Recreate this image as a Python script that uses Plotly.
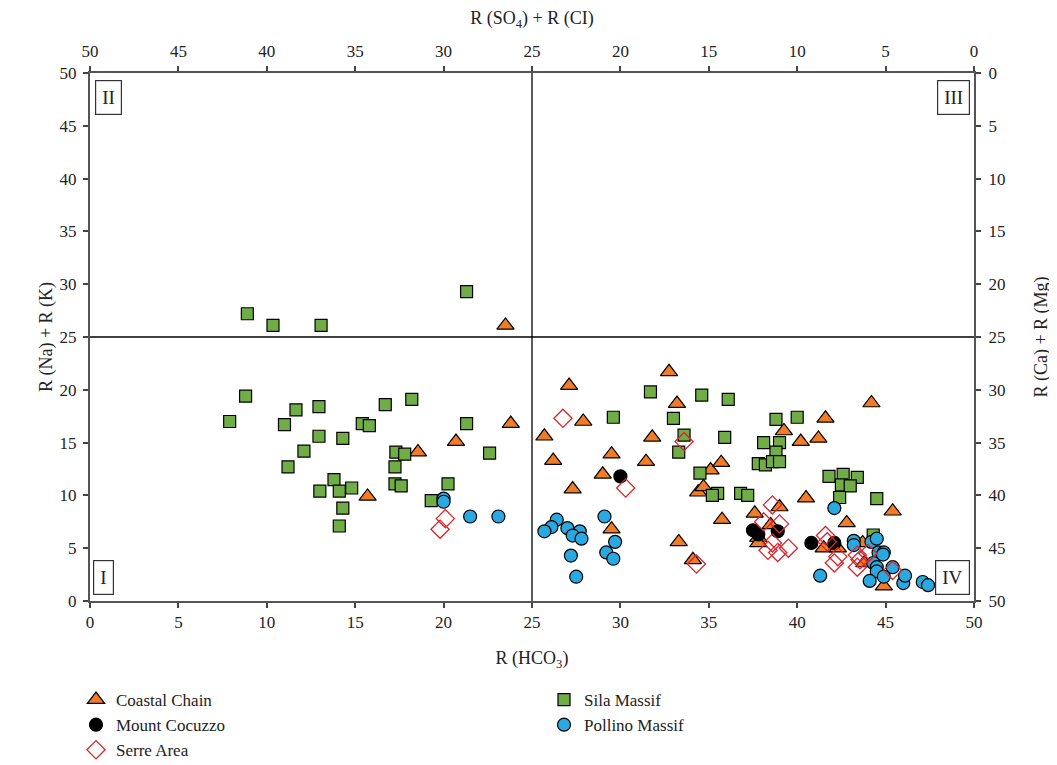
import plotly.graph_objects as go

# ---- data ----
coastal_x = [23.5, 23.8, 20.7, 18.55, 15.7, 32.75, 27.1, 33.2, 27.9, 25.7, 31.8, 26.2, 29.5, 31.45, 29.0, 27.3,
             35.1, 35.7, 34.4, 34.7, 35.75, 29.5, 33.3, 34.1, 44.2, 41.6, 39.25, 40.2, 41.2, 40.5, 45.4, 39.0,
             37.6, 42.8, 38.5, 37.8, 37.8, 41.5, 42.3, 43.7, 43.8, 44.9]
coastal_y = [26.1, 16.8, 15.1, 14.1, 9.9, 21.7, 20.4, 18.7, 17.0, 15.6, 15.5, 13.3, 13.9, 13.2, 12.0, 10.6,
             12.4, 13.1, 10.3, 10.8, 7.7, 6.8, 5.6, 3.9, 18.75, 17.3, 16.1, 15.1, 15.4, 9.75, 8.5, 8.9,
             8.3, 7.4, 7.2, 6.0, 5.5, 5.0, 5.0, 5.5, 3.6, 1.4]

cocuzzo_x = [30.0, 37.5, 37.8, 38.9, 40.8, 42.1]
cocuzzo_y = [11.8, 6.7, 6.3, 6.6, 5.5, 5.5]

serre_x = [26.75, 30.3, 33.6, 34.3, 20.1, 19.8, 38.6, 38.1, 39.0, 38.6, 38.35, 38.9, 39.5, 41.6, 41.7,
           42.1, 42.3, 43.4, 43.55, 43.4, 45.4, 44.0]
serre_y = [17.3, 10.7, 15.1, 3.5, 7.8, 6.8, 9.1, 7.5, 7.3, 5.5, 4.8, 4.6, 5.0, 6.2, 5.6,
           3.6, 4.2, 4.35, 3.9, 3.2, 2.9, 4.5]

sila_x = [8.9, 10.35, 13.07, 21.3, 8.8, 7.9, 11.65, 12.95, 11.0, 12.95, 14.3, 12.1, 11.2, 16.7, 15.4, 15.8,
          17.3, 17.8, 17.25, 17.25, 17.6, 13.8, 13.0, 14.1, 14.8, 14.3, 14.1, 18.2, 21.3, 22.6, 20.25, 19.3,
          31.7, 34.6, 36.1, 29.6, 33.0, 33.6, 35.9, 33.3, 34.5, 38.8, 40.0, 38.1, 39.0, 38.8, 37.8, 38.2,
          38.6, 39.0, 41.8, 42.6, 43.4, 42.5, 43.0, 42.4, 44.5, 35.5, 35.2, 36.8, 37.2, 44.3]
sila_y = [27.2, 26.1, 26.1, 29.3, 19.4, 17.0, 18.1, 18.4, 16.7, 15.6, 15.4, 14.2, 12.7, 18.6, 16.8, 16.6,
          14.1, 13.9, 12.7, 11.1, 10.9, 11.5, 10.4, 10.4, 10.7, 8.8, 7.1, 19.1, 16.8, 14.0, 11.1, 9.5,
          19.8, 19.5, 19.1, 17.4, 17.3, 15.7, 15.5, 14.1, 12.1, 17.2, 17.4, 15.0, 15.0, 14.1, 13.0, 12.9,
          13.2, 13.2, 11.8, 12.0, 11.7, 11.0, 10.9, 9.8, 9.7, 10.2, 10.0, 10.2, 10.0, 6.25]

pollino_x = [20.0, 20.0, 21.5, 23.1, 26.4, 26.1, 25.7, 27.0, 27.7, 27.3, 27.8, 29.1, 29.7, 29.2, 29.6, 27.2,
             27.5, 42.1, 41.3, 43.2, 43.2, 44.2, 44.5, 44.6, 44.9, 44.85, 44.3, 44.5, 44.5, 45.4, 44.1,
             44.9, 46.0, 46.1, 47.1, 47.4]
pollino_y = [9.7, 9.4, 8.0, 8.0, 7.7, 7.0, 6.6, 6.9, 6.6, 6.2, 5.9, 8.0, 5.6, 4.6, 4.0, 4.3,
             2.3, 8.8, 2.4, 5.7, 5.3, 5.6, 5.9, 4.6, 4.6, 4.4, 3.6, 3.2, 2.8, 3.2, 1.9,
             2.3, 1.7, 2.4, 1.8, 1.5]

quadrant_labels = ["I", "II", "III", "IV"]
ticks = [0, 5, 10, 15, 20, 25, 30, 35, 40, 45, 50]

FONT = "Liberation Serif"
fig = go.Figure()

def add(name, x, y, symbol, color, size, legend, line_color="black", line_w=1.2):
    fig.add_trace(go.Scatter(
        x=x, y=y, mode="markers", name=name, legend=legend,
        marker=dict(symbol=symbol, color=color, size=size,
                    line=dict(color=line_color, width=line_w)),
    ))

add("Coastal Chain", coastal_x, coastal_y, "triangle-up", "#F07C28", 15, "legend")
add("Sila Massif", sila_x, sila_y, "square", "#70AD47", 12, "legend2")
add("Mount Cocuzzo", cocuzzo_x, cocuzzo_y, "circle", "black", 13, "legend")
add("Pollino Massif", pollino_x, pollino_y, "circle", "#29A9E0", 13, "legend2")
add("Serre Area", serre_x, serre_y, "diamond-open", "#D9262C", 14, "legend", line_color="#D9262C", line_w=1.3)

# empty trace so that the secondary (top / right) axes are drawn
fig.add_trace(go.Scatter(x=[None], y=[None], xaxis="x2", yaxis="y2", mode="markers",
                         showlegend=False, hoverinfo="skip"))

axis_common = dict(
    showgrid=False, zeroline=False, ticks="outside", ticklen=5, tickwidth=1.5,
    tickcolor="#444", showline=True, linecolor="#555", linewidth=2,
    tickfont=dict(family=FONT, size=17, color="#222"),
    tickvals=ticks,
)

legend_common = dict(orientation="v", xanchor="left", yanchor="top", xref="paper", yref="paper",
                     font=dict(family=FONT, size=17, color="#222"), itemwidth=30, tracegroupgap=0,
                     bgcolor="rgba(0,0,0,0)")

# the page adds an 8px body margin, so margins are set 8px smaller on top/left
ML, MT = 82, 65
PLOT_W, PLOT_H = 884, 528
MR = 1057 - ML - PLOT_W
MB = 765 - MT - PLOT_H
LEG_TOP = -81 / PLOT_H

fig.update_layout(
    width=1057, height=765,
    margin=dict(l=ML, r=MR, t=MT, b=MB, autoexpand=False),
    paper_bgcolor="white", plot_bgcolor="white",
    font=dict(family=FONT, size=17, color="#222"),
    xaxis=dict(range=[0, 50], title=dict(text="R (HCO<sub>3</sub>)", font=dict(size=18), standoff=20), **axis_common),
    yaxis=dict(range=[0, 50], title=dict(text="R (Na) + R (K)", font=dict(size=18), standoff=2),
               ticklabelstandoff=3, **axis_common),
    xaxis2=dict(range=[50, 0], overlaying="x", side="top", anchor="y",
                title=dict(text="R (SO<sub>4</sub>) + R (CI)", font=dict(size=18), standoff=16),
                ticklabelstandoff=2, **axis_common),
    yaxis2=dict(range=[50, 0], overlaying="y", side="right", anchor="x",
                title=dict(text="R (Ca) + R (Mg)", font=dict(size=18), standoff=30),
                ticklabelstandoff=4, **axis_common),
    legend=dict(x=-14 / PLOT_W, y=LEG_TOP, **legend_common),
    legend2=dict(x=454 / PLOT_W, y=LEG_TOP, **legend_common),
    showlegend=True,
)

# quadrant divider lines at 25
fig.add_shape(type="line", xref="x", yref="paper", x0=25, x1=25, y0=0, y1=1,
              line=dict(color="black", width=1.3))
fig.add_shape(type="line", xref="paper", yref="y", x0=0, x1=1, y0=25, y1=25,
              line=dict(color="black", width=1.3))

# quadrant labels
pos = {"I": (0.003, 0.012, "left", "bottom"), "II": (0.006, 0.986, "left", "top"),
       "III": (0.995, 0.986, "right", "top"), "IV": (0.996, 0.012, "right", "bottom")}
for lab in quadrant_labels:
    px, py, xa, ya = pos[lab]
    fig.add_annotation(x=px, y=py, xref="paper", yref="paper", xanchor=xa, yanchor=ya,
                       text=lab, showarrow=False, font=dict(family=FONT, size=19, color="#222"),
                       bordercolor="#333", borderwidth=1.2, borderpad=6, bgcolor="white")

fig.write_html("out.html")
